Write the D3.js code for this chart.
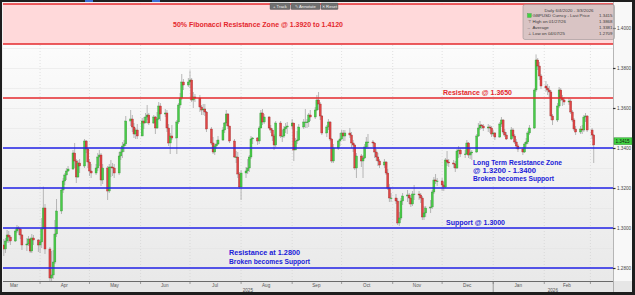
<!DOCTYPE html>
<html><head><meta charset="utf-8">
<script src="https://cdn.jsdelivr.net/npm/d3@7"></script>
<style>
html,body{margin:0;padding:0;background:#1e1e1e;overflow:hidden;}
svg{display:block;}
</style></head><body>
<svg id="c" width="635" height="295"></svg>
<script>
// ---------------- DATA ----------------
const firstOpen = 1.2915;
// Daily closes (weekdays 2025-03-10 .. 2026-03-03)
const closes = [
 // Mar 2025
 1.2895,1.2935,1.2965,1.2955,1.2935,1.2985,1.3000,1.2995,1.2965,1.2915,1.2920,1.2945,1.2885,1.2950,1.2940,1.2915,
 // Apr
 1.2930,1.2995,1.3100,1.2895,1.2750,1.2765,1.2830,1.2970,1.3085,1.3190,1.3235,1.3265,1.3285,1.3295,1.3375,1.3335,1.3255,1.3325,1.3310,1.3435,1.3395,1.3330,
 // May
 1.3285,1.3275,1.3300,1.3355,1.3365,1.3240,1.3300,1.3185,1.3305,1.3305,1.3300,1.3275,1.3360,1.3380,1.3410,1.3420,1.3535,1.3545,1.3505,1.3470,1.3490,1.3460,
 // Jun
 1.3535,1.3525,1.3555,1.3565,1.3525,1.3555,1.3500,1.3545,1.3610,1.3570,1.3575,1.3500,1.3425,1.3460,1.3450,1.3530,1.3615,1.3650,1.3730,1.3715,1.3730,
 // Jul
 1.3740,1.3640,1.3655,1.3650,1.3605,1.3590,1.3595,1.3580,1.3495,1.3425,1.3380,1.3410,1.3420,1.3440,1.3490,1.3525,1.3570,1.3510,1.3435,1.3355,1.3355,1.3270,1.3205,
 // Aug
 1.3275,1.3285,1.3300,1.3355,1.3445,1.3450,1.3435,1.3500,1.3575,1.3530,1.3555,1.3500,1.3490,1.3460,1.3415,1.3525,1.3460,1.3460,1.3495,1.3505,1.3510,
 // Sep
 1.3525,1.3390,1.3435,1.3440,1.3505,1.3530,1.3530,1.3530,1.3565,1.3555,1.3590,1.3640,1.3620,1.3560,1.3475,1.3505,1.3530,1.3445,1.3335,1.3400,1.3435,1.3445,
 // Oct
 1.3475,1.3460,1.3475,1.3465,1.3425,1.3415,1.3300,1.3360,1.3335,1.3350,1.3405,1.3430,1.3430,1.3425,1.3380,1.3355,1.3335,1.3315,1.3330,1.3275,1.3200,1.3150,1.3150,
 // Nov
 1.3135,1.3025,1.3050,1.3135,1.3160,1.3165,1.3150,1.3120,1.3170,1.3170,1.3165,1.3150,1.3055,1.3075,1.3100,1.3105,1.3180,1.3240,1.3235,1.3235,
 // Dec
 1.3215,1.3205,1.3340,1.3330,1.3325,1.3320,1.3300,1.3385,1.3390,1.3370,1.3370,1.3425,1.3365,1.3375,1.3380,1.3460,1.3500,1.3515,1.3510,1.3500,1.3505,1.3500,1.3470,
 // Jan 2026
 1.3475,1.3455,1.3520,1.3540,1.3480,1.3465,1.3445,1.3490,1.3460,1.3430,1.3410,1.3395,1.3380,1.3420,1.3430,1.3475,1.3500,1.3690,1.3840,1.3810,1.3760,1.3710,
 // Feb
 1.3700,1.3690,1.3680,1.3560,1.3540,1.3610,1.3690,1.3650,1.3640,1.3630,1.3635,1.3580,1.3540,1.3495,1.3480,1.3495,1.3490,1.3555,1.3560,1.3490,
 // Mar
 1.3465,1.3415
];
const highs = [
 1.2945,1.2950,1.2990,1.2985,1.2965,1.2995,1.3015,1.3010,1.3000,1.2970,1.2950,1.2960,1.2950,1.2970,1.2965,1.2945,
 1.2945,1.3050,1.3207,1.3120,1.2905,1.2885,1.2890,1.3040,1.3145,1.3200,1.3250,1.3275,1.3300,1.3310,1.3390,1.3425,1.3345,1.3340,1.3345,1.3445,1.3440,1.3400,
 1.3345,1.3320,1.3320,1.3375,1.3390,1.3375,1.3320,1.3310,1.3320,1.3340,1.3325,1.3320,1.3380,1.3400,1.3430,1.3440,1.3560,1.3590,1.3565,1.3525,1.3500,1.3520,
 1.3550,1.3555,1.3575,1.3615,1.3575,1.3565,1.3560,1.3580,1.3630,1.3625,1.3595,1.3590,1.3520,1.3475,1.3515,1.3540,1.3625,1.3675,1.3770,1.3745,1.3750,
 1.3788,1.3750,1.3680,1.3670,1.3665,1.3615,1.3620,1.3620,1.3585,1.3505,1.3455,1.3420,1.3440,1.3460,1.3505,1.3530,1.3590,1.3575,1.3510,1.3445,1.3385,1.3380,1.3280,
 1.3290,1.3305,1.3345,1.3365,1.3460,1.3455,1.3455,1.3510,1.3590,1.3595,1.3570,1.3560,1.3515,1.3500,1.3470,1.3535,1.3535,1.3490,1.3510,1.3525,1.3530,
 1.3545,1.3525,1.3450,1.3485,1.3520,1.3545,1.3595,1.3545,1.3575,1.3590,1.3605,1.3665,1.3680,1.3630,1.3565,1.3515,1.3545,1.3535,1.3450,1.3420,1.3440,1.3475,
 1.3490,1.3490,1.3490,1.3500,1.3480,1.3440,1.3420,1.3375,1.3370,1.3365,1.3420,1.3455,1.3470,1.3440,1.3430,1.3395,1.3375,1.3345,1.3345,1.3335,1.3295,1.3220,1.3175,
 1.3170,1.3150,1.3080,1.3150,1.3175,1.3190,1.3175,1.3150,1.3185,1.3215,1.3185,1.3175,1.3160,1.3110,1.3110,1.3140,1.3190,1.3255,1.3270,1.3250,
 1.3250,1.3230,1.3350,1.3385,1.3345,1.3340,1.3335,1.3395,1.3410,1.3400,1.3390,1.3440,1.3430,1.3400,1.3390,1.3470,1.3525,1.3535,1.3520,1.3520,1.3520,1.3515,1.3510,
 1.3490,1.3480,1.3530,1.3555,1.3545,1.3495,1.3480,1.3505,1.3500,1.3470,1.3445,1.3420,1.3405,1.3430,1.3450,1.3485,1.3515,1.3700,1.3868,1.3850,1.3830,1.3770,
 1.3735,1.3720,1.3710,1.3690,1.3570,1.3625,1.3705,1.3700,1.3665,1.3655,1.3650,1.3645,1.3590,1.3550,1.3510,1.3510,1.3515,1.3565,1.3575,1.3565,
 1.3500,1.3470
];
const lows = [
 1.2860,1.2875,1.2925,1.2925,1.2915,1.2930,1.2975,1.2965,1.2945,1.2890,1.2885,1.2910,1.2875,1.2875,1.2915,1.2880,
 1.2875,1.2900,1.2995,1.2870,1.2709,1.2735,1.2745,1.2820,1.2955,1.3070,1.3175,1.3215,1.3240,1.3280,1.3290,1.3300,1.3225,1.3250,1.3275,1.3300,1.3375,1.3300,
 1.3260,1.3250,1.3265,1.3285,1.3310,1.3210,1.3220,1.3140,1.3175,1.3255,1.3260,1.3250,1.3265,1.3340,1.3350,1.3380,1.3410,1.3510,1.3480,1.3450,1.3445,1.3445,
 1.3460,1.3495,1.3525,1.3540,1.3515,1.3520,1.3470,1.3495,1.3540,1.3535,1.3555,1.3480,1.3410,1.3370,1.3440,1.3370,1.3520,1.3600,1.3640,1.3690,1.3705,
 1.3700,1.3630,1.3600,1.3630,1.3580,1.3565,1.3565,1.3560,1.3480,1.3415,1.3370,1.3365,1.3395,1.3415,1.3435,1.3475,1.3510,1.3495,1.3425,1.3350,1.3325,1.3250,1.3195,
 1.3140,1.3250,1.3270,1.3280,1.3345,1.3420,1.3415,1.3420,1.3500,1.3515,1.3520,1.3495,1.3475,1.3435,1.3390,1.3405,1.3450,1.3430,1.3450,1.3475,1.3470,
 1.3495,1.3335,1.3390,1.3420,1.3435,1.3495,1.3500,1.3500,1.3505,1.3535,1.3545,1.3585,1.3590,1.3540,1.3465,1.3455,1.3490,1.3435,1.3325,1.3325,1.3390,1.3410,
 1.3440,1.3435,1.3435,1.3450,1.3400,1.3380,1.3290,1.3250,1.3305,1.3250,1.3345,1.3395,1.3395,1.3405,1.3350,1.3335,1.3310,1.3300,1.3300,1.3265,1.3190,1.3130,1.3130,
 1.3120,1.3015,1.3010,1.3040,1.3115,1.3130,1.3120,1.3105,1.3110,1.3140,1.3140,1.3125,1.3040,1.3040,1.3055,1.3075,1.3095,1.3170,1.3220,1.3210,
 1.3185,1.3185,1.3200,1.3310,1.3305,1.3300,1.3280,1.3295,1.3350,1.3355,1.3350,1.3365,1.3350,1.3345,1.3340,1.3375,1.3455,1.3490,1.3495,1.3485,1.3480,1.3475,1.3455,
 1.3460,1.3440,1.3450,1.3505,1.3470,1.3455,1.3440,1.3440,1.3450,1.3420,1.3395,1.3380,1.3365,1.3375,1.3405,1.3420,1.3465,1.3495,1.3680,1.3790,1.3740,1.3695,
 1.3680,1.3665,1.3655,1.3540,1.3515,1.3530,1.3600,1.3635,1.3610,1.3615,1.3615,1.3570,1.3530,1.3485,1.3465,1.3470,1.3470,1.3480,1.3530,1.3480,
 1.3445,1.3325
];
const yTickValues = [1.28, 1.30, 1.32, 1.34, 1.36, 1.38, 1.40];
const fibZone = [1.3920, 1.4120];
const resistanceLevels = [1.3650];
const supportLevels = [1.3400, 1.3200, 1.3000, 1.2800];
const lastPrice = 1.3415;
const legendTitle = "Daily 6/4/2020 - 3/3/2026";
const legendLabels = ["GBPUSD Curncy - Last Price", "High on 01/27/26", "Average", "Low on 04/07/25"];
const legendValues = ["1.3415", "1.3868", "1.3381", "1.2709"];
const legendGlyphs = ["", "\u22A4", "--", "\u22A5"];
const buttons = ["+ Track", "\u270E Annotate", "\u2715 Reset"];

// ---------------- LAYOUT ----------------
const svg = d3.select("#c");
const P = {l: 3, r: 613, t: 3, b: 281};
const x = d3.scaleTime().domain([new Date(2025,2,8), new Date(2026,2,15)]).range([0, 613]);
const y = d3.scaleLinear().domain([1.28, 1.40]).range([268, 28]);

const dates = d3.timeDay.range(new Date(2025,2,10), new Date(2026,2,4)).filter(d => d.getDay() % 6 !== 0);
const n = Math.min(dates.length, closes.length, highs.length, lows.length);
const data = [];
for (let i = 0; i < n; i++) {
  const o = i === 0 ? firstOpen : closes[i-1];
  const c = closes[i];
  data.push({d: dates[i], o, c, h: Math.max(highs[i], o, c), l: Math.min(lows[i], o, c)});
}

const defs = svg.append("defs");
const g1 = defs.append("linearGradient").attr("id","bg").attr("x1",0).attr("y1",0).attr("x2",0).attr("y2",1);
g1.append("stop").attr("offset","0%").attr("stop-color","#ffffff");
g1.append("stop").attr("offset","100%").attr("stop-color","#e9e9e9");
defs.append("clipPath").attr("id","clip").append("rect")
  .attr("x",P.l).attr("y",P.t).attr("width",P.r-P.l).attr("height",P.b-P.t);

// frame
svg.append("rect").attr("width",635).attr("height",295).attr("fill","#1e1e1e");
svg.append("rect").attr("x",2).attr("y",2).attr("width",630).attr("height",290).attr("fill","#f2f2f2");
svg.append("rect").attr("x",P.l).attr("y",P.t).attr("width",P.r-P.l).attr("height",P.b-P.t).attr("fill","url(#bg)");
svg.append("rect").attr("x",P.r).attr("y",2).attr("width",632-P.r).attr("height",P.b-2).attr("fill","#f8f8f8");
svg.append("rect").attr("x",2).attr("y",P.b).attr("width",630).attr("height",292-P.b).attr("fill","#e6e6e6");
// top bar highlights
[[85,93],[152,160]].forEach(([a,b]) => svg.append("rect").attr("x",a).attr("y",0).attr("width",b-a).attr("height",2).attr("fill","#3b6fd6"));

const plot = svg.append("g").attr("clip-path","url(#clip)");

// month grid
const monthStarts = d3.timeMonth.range(new Date(2025,2,1), new Date(2026,3,1));
plot.selectAll(".vg").data(monthStarts).join("line")
  .attr("x1", d => x(d)+0.5).attr("x2", d => x(d)+0.5).attr("y1",P.t).attr("y2",P.b)
  .attr("stroke","#cfcfcf").attr("stroke-width",0.6).attr("stroke-dasharray","1,2");
plot.selectAll(".hg").data(d3.range(1.27, 1.415, 0.01)).join("line")
  .attr("x1",P.l).attr("x2",P.r).attr("y1", d => Math.round(y(d))+0.5).attr("y2", d => Math.round(y(d))+0.5)
  .attr("stroke","#e2e2e2").attr("stroke-width",0.5);

// fib zone
plot.append("rect").attr("x",P.l).attr("width",P.r-P.l)
  .attr("y", y(fibZone[1])).attr("height", y(fibZone[0]) - y(fibZone[1]))
  .attr("fill","#ffd9da");
plot.selectAll(".fib").data(fibZone).join("line")
  .attr("x1",P.l).attr("x2",P.r).attr("y1", d => y(d)).attr("y2", d => y(d))
  .attr("stroke","#e4282d").attr("stroke-width",1.4);

// candles
const cw = 2.0;
plot.selectAll(".wick").data(data).join("line")
  .attr("x1", d => x(d.d)+0.5).attr("x2", d => x(d.d)+0.5)
  .attr("y1", d => y(d.h)).attr("y2", d => y(d.l))
  .attr("stroke","#9c9c9c").attr("stroke-width",0.7);
plot.selectAll(".body").data(data).join("rect")
  .attr("x", d => x(d.d)+0.5-cw/2).attr("width", cw)
  .attr("y", d => y(Math.max(d.o,d.c)))
  .attr("height", d => Math.max(0.7, Math.abs(y(d.o)-y(d.c))))
  .attr("fill", d => d.c >= d.o ? "#48cc48" : "#e04646")
  .attr("stroke", d => d.c >= d.o ? "#2f8f2f" : "#9a2626")
  .attr("stroke-width",0.35);

// resistance / support
plot.selectAll(".res").data(resistanceLevels).join("line")
  .attr("x1",P.l).attr("x2",P.r).attr("y1", d => y(d)).attr("y2", d => y(d))
  .attr("stroke","#e4282d").attr("stroke-width",1.4);
plot.selectAll(".sup").data(supportLevels).join("line")
  .attr("x1",P.l).attr("x2",P.r).attr("y1", d => y(d)).attr("y2", d => y(d))
  .attr("stroke","#2020e6").attr("stroke-width",1.4);

// annotations
const ann = svg.append("g").attr("font-family","'Liberation Sans', Arial, sans-serif").attr("font-weight","bold");
function note(t, x0, yb, color, size, len) {
  const e = ann.append("text").attr("x",x0).attr("y",yb).attr("fill",color).attr("font-size",size).text(t);
  if (len) e.attr("textLength",len).attr("lengthAdjust","spacingAndGlyphs");
}
note("50% Fibonacci Resistance Zone @ 1.3920 to 1.4120", 173, 26.5, "#e4282d", 7, 170);
note("Resistance @ 1.3650", 443, 95, "#e4282d", 6.5, 69);
note("Long Term Resistance Zone", 473, 164.5, "#2020d8", 6.5, 89);
note("@ 1.3200 - 1.3400", 473, 172.5, "#2020d8", 6.5, 63);
note("Broken becomes Support", 473, 180.5, "#2020d8", 6.5, 81);
note("Support @ 1.3000", 446, 224.5, "#2020d8", 6.5, 59);
note("Resistance at 1.2800", 229, 255, "#2020d8", 6.5, 71);
note("Broken becomes Support", 229, 263.5, "#2020d8", 6.5, 81);

// plot border
svg.append("line").attr("x1",P.r+0.5).attr("x2",P.r+0.5).attr("y1",2).attr("y2",292).attr("stroke","#8a8a8a").attr("stroke-width",0.6);

// right axis
const ya = svg.append("g").attr("transform",`translate(${P.r},0)`)
  .call(d3.axisRight(y).tickValues(yTickValues).tickSize(2.5).tickFormat(d3.format(".4f")));
ya.select(".domain").remove();
ya.selectAll("line").attr("stroke","#333").attr("stroke-width",1.2);
ya.selectAll("text").attr("x",4).attr("font-size",4.6).attr("fill","#444")
  .attr("font-family","'Liberation Sans', Arial, sans-serif");
// last price tag (sits just above the 1.3400 label)
const ly = y(lastPrice);
svg.append("rect").attr("x",P.r+1).attr("y",ly-7.2).attr("width",18).attr("height",6.8)
  .attr("fill","#43d443").attr("stroke","#2c8c2c").attr("stroke-width",0.5);
svg.append("text").attr("x",P.r+2.5).attr("y",ly-2.2).attr("font-size",4.6).attr("fill","#111")
  .attr("font-family","'Liberation Sans', Arial, sans-serif").text(d3.format(".4f")(lastPrice));

// bottom axis
const xa = svg.append("g").attr("transform",`translate(0,${P.b})`)
  .call(d3.axisBottom(x).tickValues(monthStarts.filter(d => x(d) > P.l && x(d) < P.r)).tickSize(3).tickFormat(""));
xa.select(".domain").attr("d",`M${P.l},0.5H${P.r}`).attr("stroke","#6a6a6a");
xa.selectAll("line").attr("stroke","#6a6a6a").attr("stroke-width",0.6);
const monthCenters = monthStarts.map(d => ({d, c: new Date((+d + +d3.timeMonth.offset(d,1))/2)}))
  .filter(m => x(m.c) > P.l && x(m.c) < P.r);
svg.append("g").selectAll("text").data(monthCenters).join("text")
  .attr("x", m => x(m.c)).attr("y", P.b+6.3).attr("text-anchor","middle")
  .attr("font-size",4.6).attr("fill","#555").attr("font-family","'Liberation Sans', Arial, sans-serif")
  .text(m => d3.timeFormat("%b")(m.d));
const years = [new Date(2025,0,1), new Date(2026,0,1)];
svg.append("line").attr("x1",x(years[1])+0.5).attr("x2",x(years[1])+0.5).attr("y1",P.b).attr("y2",292).attr("stroke","#6a6a6a").attr("stroke-width",0.6);
svg.append("g").selectAll("text").data(years).join("text")
  .attr("x", d => (Math.max(P.l, x(d)) + Math.min(P.r, x(d3.timeYear.offset(d,1))))/2)
  .attr("y", P.b+10.5).attr("text-anchor","middle")
  .attr("font-size",4.6).attr("fill","#555").attr("font-family","'Liberation Sans', Arial, sans-serif")
  .text(d => d3.timeFormat("%Y")(d));

// legend
const lg = svg.append("g").attr("font-family","'Liberation Sans', Arial, sans-serif").attr("font-size",4.4).attr("fill","#3a3a3a");
lg.append("rect").attr("x",523).attr("y",4.5).attr("width",91.5).attr("height",35).attr("rx",2)
  .attr("fill","rgba(185,178,178,0.55)").attr("stroke","#9b9595").attr("stroke-width",0.6);
lg.append("text").attr("x",569).attr("y",11.5).attr("text-anchor","middle").text(legendTitle);
legendLabels.forEach((t,i) => {
  const yy = 17.2 + i*5.9;
  if (i === 0) {
    lg.append("rect").attr("x",527.5).attr("y",yy-3.6).attr("width",3.8).attr("height",3.8).attr("fill","#3fd43f").attr("stroke","#2a8a2a").attr("stroke-width",0.3);
  } else {
    lg.append("text").attr("x",527.5).attr("y",yy).attr("font-size",3.8).text(legendGlyphs[i]);
  }
  lg.append("text").attr("x",532.5).attr("y",yy).text(t);
  lg.append("text").attr("x",612.5).attr("y",yy).attr("text-anchor","end").text(legendValues[i]);
});

// toolbar buttons
const bx = [270, 291, 321], bw = [20, 29, 17];
buttons.forEach((t,i) => {
  svg.append("rect").attr("x",bx[i]).attr("y",3).attr("width",bw[i]).attr("height",6.5).attr("rx",0.8)
    .attr("fill","#6f6f6f").attr("stroke","#555").attr("stroke-width",0.4);
  svg.append("text").attr("x",bx[i]+bw[i]/2).attr("y",7.8).attr("text-anchor","middle").attr("font-size",4.2)
    .attr("fill","#f4f4f4").attr("font-family","'Liberation Sans', Arial, sans-serif").text(t);
});
</script>
</body></html>
